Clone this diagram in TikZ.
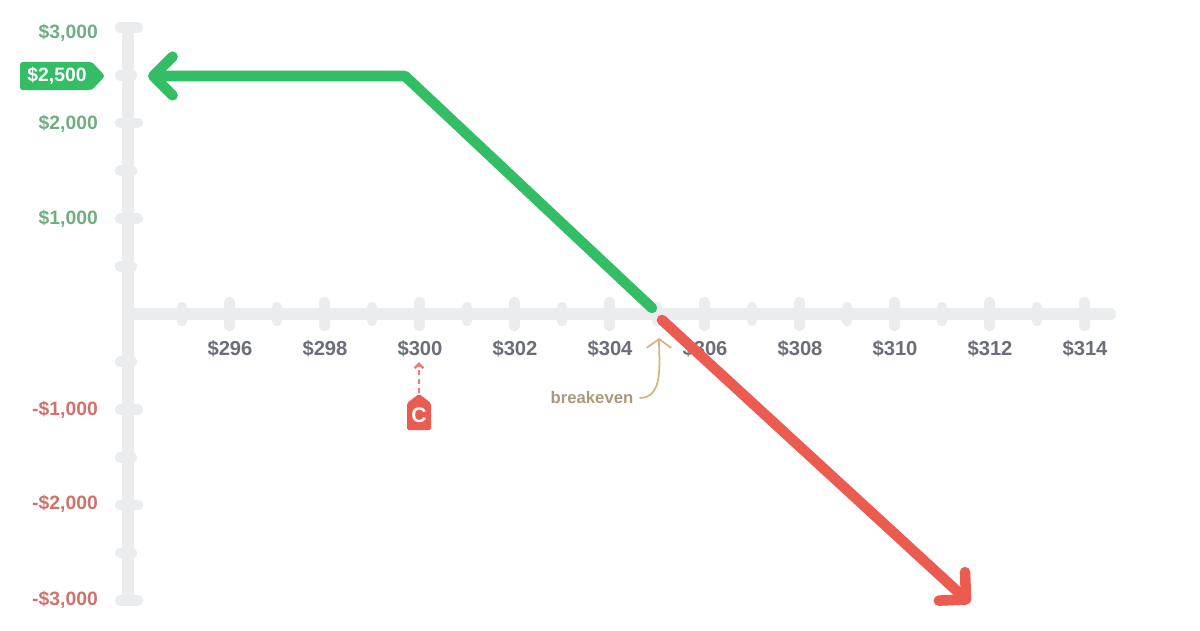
\documentclass[tikz,border=0pt]{standalone}
\usepackage{fontspec}
\setmainfont{Liberation Sans}
\usetikzlibrary{arrows.meta,positioning}
\definecolor{gainc}{HTML}{33BD65}
\definecolor{lossc}{HTML}{EB5B4F}
\definecolor{axisc}{HTML}{EBECEE}
\definecolor{pricec}{HTML}{6B6E78}
\definecolor{gaintxt}{HTML}{6FAE80}
\definecolor{losstxt}{HTML}{D0716A}
\definecolor{beven}{HTML}{A89A7C}
\definecolor{bevenline}{HTML}{D4B57F}
\tikzset{
  axisline/.style={draw=axisc,line width=7pt,line cap=round},
  tickline/.style={draw=axisc,line width=6pt,line cap=round},
  price/.style={text=pricec,font=\bfseries\fontsize{11.5}{14}\selectfont},
  gainlbl/.style={text=gaintxt,font=\bfseries\fontsize{11}{14}\selectfont,anchor=east},
  losslbl/.style={text=losstxt,font=\bfseries\fontsize{11}{14}\selectfont,anchor=east},
  payoff/.style={line width=6pt,line join=round,line cap=round},
}
\begin{document}
\begin{tikzpicture}[x=0.02cm,y=-0.02cm]
\useasboundingbox (0,0) rectangle (1200,630);
% axes
\coordinate (y-top) at (128,33);
\coordinate (y-bot) at (128,600);
\coordinate (x-left) at (128,314);
\coordinate (x-right) at (1110,314);
\path[axisline] (y-top) -- (y-bot);
\path[axisline] (x-left) -- (x-right);
% price ticks
\foreach \i in {0,...,19} {
  \pgfmathsetmacro{\px}{182+47.5*\i}
  \ifodd\i
    \path[tickline] (\px,302) -- (\px,326);
  \else
    \path[tickline] (\px,307) -- (\px,321);
  \fi
}
\foreach \p [count=\k from 0] in {296,298,...,314}
  \node[price] (price-\p) at (230+95*\k,349) {\$\p};
% p&l ticks
\foreach \v in {-3000,-2000,-1000,1000,2000,3000}
  \path[tickline] (120,314-0.0955*\v) -- (138,314-0.0955*\v);
\foreach \v in {-2500,-1500,-500,500,1500,2500}
  \path[tickline] (120,314-0.0955*\v) -- (132,314-0.0955*\v);
\node[gainlbl] (pl-3000) at (104,33) {\$3,000};
\node[gainlbl] (pl-2000) at (104,124) {\$2,000};
\node[gainlbl] (pl-1000) at (104,219) {\$1,000};
\node[losslbl] (pl-m1000) at (104,410) {-\$1,000};
\node[losslbl] (pl-m2000) at (104,504) {-\$2,000};
\node[losslbl] (pl-m3000) at (104,600) {-\$3,000};
% max gain tag
\fill[gainc,rounded corners=1.5pt] (20,62) -- (92,62) -- (105,76) -- (92,90) -- (20,90) -- cycle;
\node[text=white,font=\bfseries\fontsize{11}{14}\selectfont] (max-gain) at (57,76) {\$2,500};
% payoff
\coordinate (gain-end) at (148,76);
\coordinate (kink) at (405,76);
\coordinate (zero) at (652,308);
\coordinate (loss-start) at (662,320);
\coordinate (loss-end) at (970,603);
\draw[payoff,gainc,-{Straight Barb[round,length=11pt,width=22pt,line width=6pt]}] (zero) -- (kink) -- (gain-end);
\draw[payoff,lossc,-{Straight Barb[round,length=11pt,width=22pt,line width=6pt]}] (loss-start) -- (loss-end);
% strike tag
\fill[lossc,rounded corners=1pt] (407,430) -- (407,403) -- (419,394) -- (431,403) -- (431,430) -- cycle;
\node[text=white,font=\bfseries\fontsize{12}{14}\selectfont] (strike) at (419,415) {C};
\coordinate (strike-tip) at (419,362);
\draw[lossc!80,line width=1.4pt,dash pattern=on 3pt off 2pt,-{Straight Barb[length=2.5pt,width=5pt]}] (419,393) -- (strike-tip);
% breakeven
\node[text=beven,font=\bfseries\fontsize{9.5}{11}\selectfont] (breakeven) at (592,398) {breakeven};
\coordinate (be-point) at (659,338);
\draw[bevenline,line width=1pt,-{Straight Barb[length=5pt,width=14pt]}] (breakeven.east) to[out=0,in=-90] (be-point);
\end{tikzpicture}
\end{document}
